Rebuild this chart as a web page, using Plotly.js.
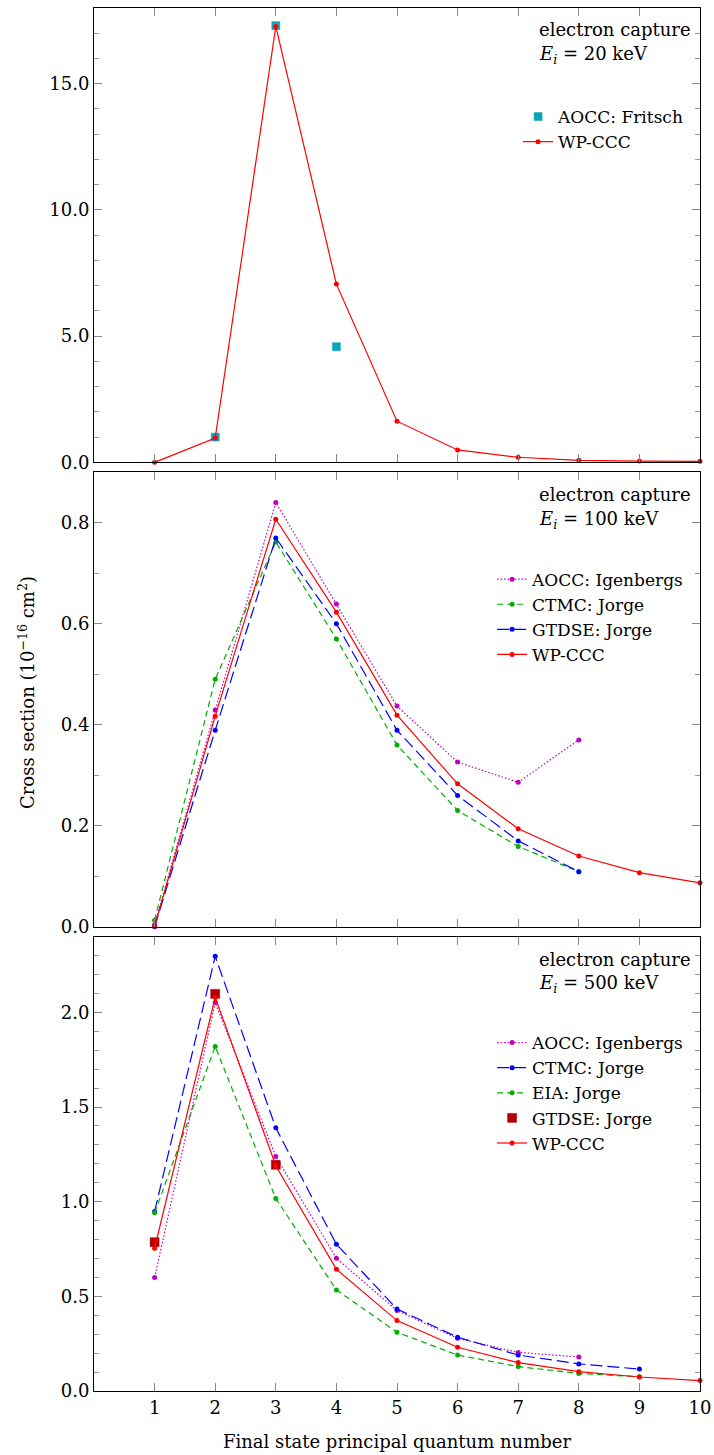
<!DOCTYPE html>
<html><head><meta charset="utf-8">
<script src="https://cdn.plot.ly/plotly-3.0.1.min.js"></script>
<style>html,body{margin:0;padding:0;background:#fff;}</style>
</head><body><div id="chart" style="width:714px;height:1455px;"></div>
<script>
// ---------- data ----------
const n = [1,2,3,4,5,6,7,8,9,10];
const xTickLabels = ['1','2','3','4','5','6','7','8','9','10'];

// Panel 1: E_i = 20 keV
const p1_aocc_x = [2,3,4];
const p1_aocc_y = [1.00, 17.30, 4.58];
const p1_wp_y = [0.00, 0.96, 17.27, 7.06, 1.63, 0.49, 0.20, 0.08, 0.05, 0.04];

// Panel 2: E_i = 100 keV
const p2_n8 = [1,2,3,4,5,6,7,8];
const p2_aocc_y = [0.004, 0.429, 0.840, 0.639, 0.437, 0.326, 0.286, 0.370];
const p2_ctmc_y = [0.013, 0.490, 0.762, 0.570, 0.360, 0.230, 0.159, 0.109];
const p2_gtdse_y = [0.000, 0.389, 0.770, 0.600, 0.389, 0.260, 0.170, 0.109];
const p2_wp_y = [0.001, 0.417, 0.807, 0.623, 0.419, 0.283, 0.194, 0.140, 0.107, 0.087];

// Panel 3: E_i = 500 keV
const p3_aocc_x = [1,2,3,4,5,6,7,8];
const p3_aocc_y = [0.599, 2.052, 1.239, 0.701, 0.425, 0.278, 0.204, 0.180];
const p3_ctmc_x = [1,2,3,4,5,6,7,8,9];
const p3_ctmc_y = [0.948, 2.296, 1.390, 0.775, 0.433, 0.284, 0.190, 0.143, 0.116];
const p3_eia_x = [1,2,3,4,5,6,7,8,9];
const p3_eia_y = [0.941, 1.820, 1.017, 0.534, 0.310, 0.190, 0.129, 0.093, 0.075];
const p3_gtdse_x = [1,2,3];
const p3_gtdse_y = [0.786, 2.098, 1.195];
const p3_wp_y = [0.754, 2.080, 1.190, 0.643, 0.372, 0.231, 0.150, 0.102, 0.074, 0.055];

// ---------- styles ----------
const FONT = 'DejaVu Serif';
const FS = 18, LFS = 17;
const RED = '#ff0000', BLUE = '#0000ff', GREEN = '#00b000', MAG = '#bf00bf', TEAL = '#0aa5b8', DRED = '#b00000';
const LW = 1.2, MS = 5;
const LONGDASH = '12px,5px', SHORTDASH = '6px,4px', DOTS = '1.5px,2px';

function line(x, y, name, color, dash, xa, ya, leg) {
  return {x, y, name, type:'scatter', mode:'lines+markers', xaxis:xa, yaxis:ya, legend:leg,
    line:{color, width:LW, dash}, marker:{color, size:MS, symbol:'circle'}, cliponaxis:false};
}
function squares(x, y, name, color, size, xa, ya, leg) {
  return {x, y, name, type:'scatter', mode:'markers', xaxis:xa, yaxis:ya, legend:leg,
    marker:{color, size, symbol:'square', line:{color, width:0.5}}, cliponaxis:false};
}

const data = [
  squares(p1_aocc_x, p1_aocc_y, 'AOCC: Fritsch', TEAL, 8, 'x', 'y', 'legend'),
  line(n, p1_wp_y, 'WP-CCC', RED, 'solid', 'x', 'y', 'legend'),

  line(p2_n8, p2_aocc_y, 'AOCC: Igenbergs', MAG, DOTS, 'x2', 'y2', 'legend2'),
  line(p2_n8, p2_ctmc_y, 'CTMC: Jorge', GREEN, SHORTDASH, 'x2', 'y2', 'legend2'),
  line(p2_n8, p2_gtdse_y, 'GTDSE: Jorge', BLUE, LONGDASH, 'x2', 'y2', 'legend2'),
  line(n, p2_wp_y, 'WP-CCC', RED, 'solid', 'x2', 'y2', 'legend2'),

  line(p3_aocc_x, p3_aocc_y, 'AOCC: Igenbergs', MAG, DOTS, 'x3', 'y3', 'legend3'),
  line(p3_ctmc_x, p3_ctmc_y, 'CTMC: Jorge', BLUE, LONGDASH, 'x3', 'y3', 'legend3'),
  line(p3_eia_x, p3_eia_y, 'EIA: Jorge', GREEN, SHORTDASH, 'x3', 'y3', 'legend3'),
  squares(p3_gtdse_x, p3_gtdse_y, 'GTDSE: Jorge', DRED, 9, 'x3', 'y3', 'legend3'),
  line(n, p3_wp_y, 'WP-CCC', RED, 'solid', 'x3', 'y3', 'legend3')
];

function xax(anchor, labels) {
  return {range:[0,10], tickvals:n, ticktext:xTickLabels, ticks:'inside', ticklen:8, tickcolor:'#888', tickwidth:1,
    showline:true, linecolor:'#000', linewidth:1, mirror:'ticks', showgrid:false, zeroline:false,
    showticklabels:labels, anchor, tickfont:{family:FONT, size:FS, color:'#000'}, fixedrange:true};
}
function yax(anchor, domain, range, dtick, mdtick) {
  return {domain, range, dtick, tick0:0, tickformat:'.1f', ticks:'inside', ticklen:8, tickcolor:'#888', tickwidth:1,
    minor:{dtick:mdtick, tick0:0, ticks:'inside', ticklen:5, tickcolor:'#999', tickwidth:1, showgrid:false},
    showline:true, linecolor:'#000', linewidth:1, mirror:'ticks', showgrid:false, zeroline:false,
    anchor, tickfont:{family:FONT, size:FS, color:'#000'}, fixedrange:true};
}
function leg(y) {
  return {x:0.982, xanchor:'right', y, yanchor:'top', xref:'paper', yref:'paper', bgcolor:'rgba(0,0,0,0)',
    borderwidth:0, font:{family:FONT, size:LFS, color:'#000'}, itemwidth:30, tracegroupgap:0};
}
function note(xr, yr, y, text) {
  return {xref:xr+' domain', yref:yr+' domain', x:0.731, y, xanchor:'left', yanchor:'middle', showarrow:false,
    text, font:{family:FONT, size:FS, color:'#000'}};
}

const layout = {
  width:714, height:1455, margin:{l:94, r:14, t:8, b:64}, paper_bgcolor:'#fff', plot_bgcolor:'#fff',
  font:{family:FONT, size:FS, color:'#000'},
  xaxis: xax('y', false), xaxis2: xax('y2', false), xaxis3: xax('y3', true),
  yaxis: yax('x', [0.6715, 1.0], [0, 18], 5, 1),
  yaxis2: yax('x2', [0.3357, 0.6643], [0, 0.9], 0.2, 0.1),
  yaxis3: yax('x3', [0, 0.3285], [0, 2.4], 0.5, 0.1),
  legend: leg(0.9342), legend2: leg(0.5997), legend3: leg(0.2646),
  annotations: [
    note('x','y',0.952,'electron capture'), note('x','y',0.897,'<i>E<sub>i</sub></i> = 20 keV'),
    note('x2','y2',0.950,'electron capture'), note('x2','y2',0.895,'<i>E<sub>i</sub></i> = 100 keV'),
    note('x3','y3',0.950,'electron capture'), note('x3','y3',0.895,'<i>E<sub>i</sub></i> = 500 keV'),
    {xref:'paper', yref:'paper', x:0.5, y:-0.0362, xanchor:'center', yanchor:'middle', showarrow:false,
     text:'Final state principal quantum number', font:{family:FONT, size:FS, color:'#000'}},
    {xref:'paper', yref:'paper', x:-0.1106, y:0.5054, xanchor:'center', yanchor:'middle', showarrow:false, textangle:-90,
     text:'Cross section (10<sup>−16</sup> cm<sup>2</sup>)', font:{family:FONT, size:FS, color:'#000'}}
  ],
  showlegend:true
};

Plotly.newPlot('chart', data, layout, {displayModeBar:false, staticPlot:true});
</script></body></html>
